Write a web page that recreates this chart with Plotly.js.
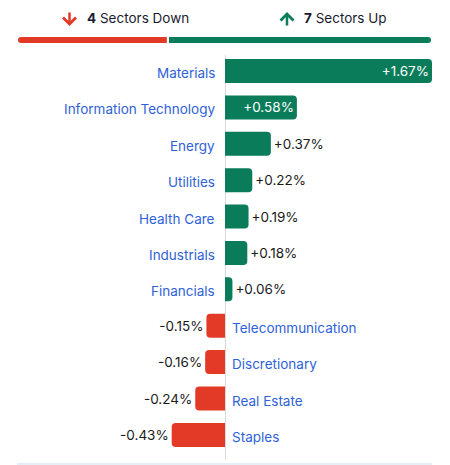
<!DOCTYPE html>
<html>
<head>
<meta charset="utf-8">
<script src="https://cdn.plot.ly/plotly-3.0.1.min.js"></script>
<style>html,body{margin:0;padding:0;background:#fff;}#chart{width:450px;height:465px;}</style>
</head>
<body>
<div id="chart"></div>
<script>
const sectors = ["Materials","Information Technology","Energy","Utilities","Health Care","Industrials","Financials","Telecommunication","Discretionary","Real Estate","Staples"];
const changes = [1.67, 0.58, 0.37, 0.22, 0.19, 0.18, 0.06, -0.15, -0.16, -0.24, -0.43];
const downCount = 4;
const upCount = 7;

const GREEN = "#0a7c59";
const RED = "#e23a26";
const BLUE = "#2f62d8";
const FONT = "Inter, 'Noto Sans', sans-serif";

const labels = changes.map(v => (v > 0 ? "+" : "") + v.toFixed(2) + "%");
const colors = changes.map(v => v >= 0 ? GREEN : RED);
const textPos = changes.map(v => Math.abs(v) >= 0.5 ? "inside" : "outside");

const mainTrace = {
  type: "bar", orientation: "h",
  x: changes, y: sectors,
  marker: {color: colors, cornerradius: 4},
  text: labels, textposition: textPos, insidetextanchor: "end", constraintext: "none",
  insidetextfont: {family: FONT, size: 13.5, color: "#ffffff"},
  outsidetextfont: {family: FONT, size: 13.5, color: "#1a1a1a"},
  cliponaxis: false, hoverinfo: "skip", showlegend: false,
  xaxis: "x", yaxis: "y"
};

const downTrace = {
  type: "bar", orientation: "h", x: [-downCount], y: ["s"],
  marker: {color: RED, cornerradius: 4, line: {color: "#ffffff", width: 2}},
  width: 1, hoverinfo: "skip", showlegend: false, xaxis: "x2", yaxis: "y2"
};
const upTrace = {
  type: "bar", orientation: "h", x: [upCount], y: ["s"],
  marker: {color: GREEN, cornerradius: 4, line: {color: "#ffffff", width: 2}},
  width: 1, hoverinfo: "skip", showlegend: false, xaxis: "x2", yaxis: "y2"
};

const annotations = sectors.map((s, i) => ({
  x: 0, y: s, xref: "x", yref: "y", text: s, showarrow: false,
  xanchor: changes[i] >= 0 ? "right" : "left",
  xshift: changes[i] >= 0 ? -8 : 5, yshift: -2,
  font: {family: FONT, size: 13.5, color: BLUE}
}));

annotations.push(
  {xref: "paper", yref: "paper", x: (85-17)/415, y: (460-18)/430, xanchor: "left", yanchor: "middle",
   text: "<b>" + downCount + "</b> Sectors Down", showarrow: false, font: {family: FONT, size: 13.5, color: "#1a1a2e"}},
  {xref: "paper", yref: "paper", x: (302-17)/415, y: (460-18)/430, xanchor: "left", yanchor: "middle",
   text: "<b>" + upCount + "</b> Sectors Up", showarrow: false, font: {family: FONT, size: 13.5, color: "#1a1a2e"}},
  {xref: "paper", yref: "paper", x: (69.5-17)/415, y: (460-26)/430, ax: 0, ay: -15, text: "",
   showarrow: true, arrowhead: 4, arrowsize: 1, arrowwidth: 2.5, arrowcolor: RED},
  {xref: "paper", yref: "paper", x: (287-17)/415, y: (460-12)/430, ax: 0, ay: 15, text: "",
   showarrow: true, arrowhead: 4, arrowsize: 1, arrowwidth: 2.5, arrowcolor: GREEN}
);

const layout = {
  width: 450, height: 465,
  margin: {l: 17, r: 18, t: 30, b: 5},
  paper_bgcolor: "#ffffff", plot_bgcolor: "#ffffff",
  barmode: "relative", bargap: 0.34,
  font: {family: FONT},
  xaxis: {range: [-1.678, 1.67], domain: [0, 1], showgrid: false, showticklabels: false, ticks: "",
          zeroline: true, zerolinecolor: "#d9d9d9", zerolinewidth: 1, fixedrange: true},
  yaxis: {domain: [0, 405/430], range: [10.69, -0.44], type: "category", showgrid: false,
          showticklabels: false, ticks: "", zeroline: false, fixedrange: true},
  xaxis2: {range: [-downCount, upCount], domain: [0, 1], anchor: "y2", showgrid: false, showticklabels: false,
           ticks: "", zeroline: false, fixedrange: true},
  yaxis2: {domain: [(460-44)/430, (460-36)/430], range: [-0.5, 0.5], anchor: "x2", showgrid: false,
           showticklabels: false, ticks: "", zeroline: false, fixedrange: true},
  shapes: [{type: "line", xref: "paper", yref: "paper", x0: 0, x1: 1, y0: -4/430, y1: -4/430,
            line: {color: "#e6eef6", width: 2}}],
  annotations: annotations
};

Plotly.newPlot("chart", [mainTrace, downTrace, upTrace], layout, {displayModeBar: false, staticPlot: true});
</script>
</body>
</html>
